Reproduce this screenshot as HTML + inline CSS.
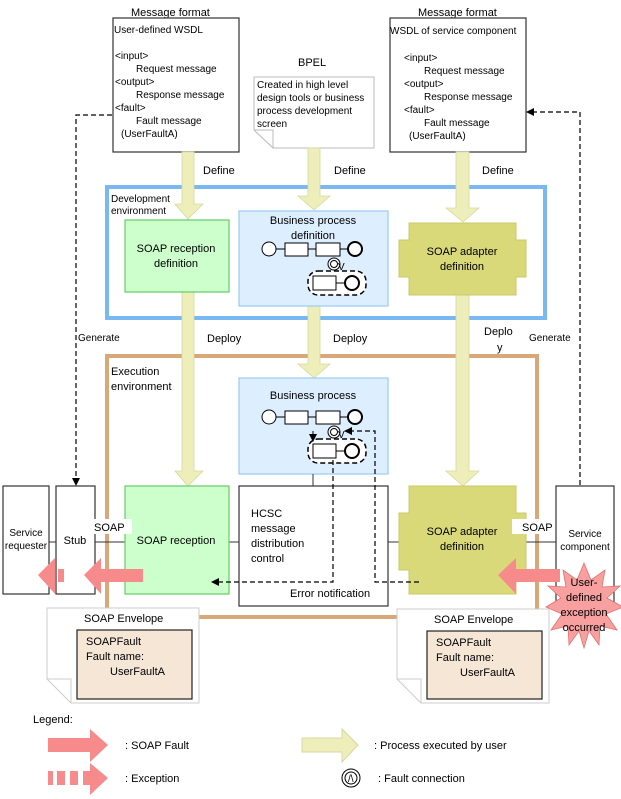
<!DOCTYPE html>
<html><head><meta charset="utf-8"><style>
html,body{margin:0;padding:0;background:#fff;}
svg{display:block;}
text{font-family:"Liberation Sans",sans-serif;font-size:11px;fill:#000;}
.s{font-size:10px;}
</style></head><body>
<svg width="621" height="799" viewBox="0 0 621 799" xmlns="http://www.w3.org/2000/svg">
<defs>
<marker id="ah" markerWidth="8" markerHeight="8" refX="7" refY="4" orient="auto" markerUnits="userSpaceOnUse"><path d="M0,0 L8,4 L0,8 Z" fill="#000"/></marker>
</defs>

<!-- Environments -->
<rect x="107" y="187" width="438" height="131" fill="none" stroke="#7ab8f2" stroke-width="4"/>
<rect x="107" y="356" width="430" height="261" fill="none" stroke="#d8a878" stroke-width="4"/>
<text x="111" y="202" class="s">Development</text>
<text x="111" y="214" class="s">environment</text>
<text x="111" y="375">Execution</text>
<text x="111" y="390">environment</text>

<!-- Top boxes -->
<text x="131" y="16">Message format</text>
<rect x="113" y="18" width="126" height="134" fill="#fff" stroke="#333" stroke-width="1.2"/>
<text x="114" y="33" class="s">User-defined WSDL</text>
<text x="115" y="59" class="s">&lt;input&gt;</text>
<text x="136" y="72" class="s">Request message</text>
<text x="115" y="85" class="s">&lt;output&gt;</text>
<text x="136" y="98" class="s">Response message</text>
<text x="115" y="111" class="s">&lt;fault&gt;</text>
<text x="136" y="124" class="s">Fault message</text>
<text x="121" y="137" class="s">(UserFaultA)</text>

<text x="418" y="16">Message format</text>
<rect x="390" y="18" width="136" height="134" fill="#fff" stroke="#333" stroke-width="1.2"/>
<text x="390" y="34" class="s">WSDL of service component</text>
<text x="404" y="61" class="s">&lt;input&gt;</text>
<text x="424" y="74" class="s">Request message</text>
<text x="404" y="87" class="s">&lt;output&gt;</text>
<text x="424" y="100" class="s">Response message</text>
<text x="404" y="113" class="s">&lt;fault&gt;</text>
<text x="424" y="126" class="s">Fault message</text>
<text x="409" y="139" class="s">(UserFaultA)</text>

<text x="298" y="66">BPEL</text>
<path d="M254,77 L374,77 L374,148 L273,148 L254,130 Z" fill="#fff" stroke="#bbb"/>
<path d="M254,130 L273,130 L273,148" fill="none" stroke="#bbb"/>
<text x="257" y="88" class="s">Created in high level</text>
<text x="257" y="101" class="s">design tools or business</text>
<text x="257" y="114" class="s">process development</text>
<text x="257" y="127" class="s">screen</text>

<!-- Yellow arrows -->
<g fill="#eeeebb" stroke="#d8d8a0" stroke-width="0.8">
<path d="M182,152 L194,152 L194,204 L203,204 L188,219 L175,204 L182,204 Z"/>
<path d="M308,148 L320,148 L320,196 L330,196 L314,210 L298,196 L308,196 Z"/>
<path d="M456,152 L469,152 L469,208 L479,208 L463,222 L446,208 L456,208 Z"/>
<path d="M182,292 L194,292 L194,471 L203,471 L188,486 L175,471 L182,471 Z"/>
<path d="M308,306 L320,306 L320,364 L330,364 L314,378 L298,364 L308,364 Z"/>
<path d="M456,295 L469,295 L469,471 L479,471 L463,486 L446,471 L456,471 Z"/>
</g>
<text x="203" y="174">Define</text>
<text x="334" y="174">Define</text>
<text x="482" y="174">Define</text>
<text x="207" y="342">Deploy</text>
<text x="333" y="342">Deploy</text>
<text x="484" y="335">Deplo</text>
<text x="497" y="351">y</text>
<text x="78" y="341" class="s">Generate</text>
<text x="529" y="341" class="s">Generate</text>

<!-- Dev boxes -->
<rect x="125" y="220" width="104" height="72" fill="#ccffcc" stroke="#66cc66" stroke-width="1.2"/>
<text x="176" y="252" text-anchor="middle">SOAP reception</text>
<text x="176" y="267" text-anchor="middle">definition</text>

<rect x="239" y="211" width="149" height="95" fill="#ddeeff" stroke="#99ccee" stroke-width="1.2"/>
<text x="313" y="224" text-anchor="middle">Business process</text>
<text x="313" y="239" text-anchor="middle">definition</text>

<path d="M409,223 L516,223 L516,240 L526,240 L526,277 L516,277 L516,295 L409,295 L409,277 L399,277 L399,240 L409,240 Z" fill="#d9d97a" stroke="#c9c96a"/>
<text x="462" y="255" text-anchor="middle">SOAP adapter</text>
<text x="462" y="270" text-anchor="middle">definition</text>

<!-- process mini diagrams -->
<g id="pd" stroke="#000" fill="#fff">
<line x1="276" y1="249" x2="348" y2="249" stroke-width="1"/>
<circle cx="269" cy="249" r="7" stroke-width="1"/>
<rect x="285" y="243" width="23" height="13"/>
<rect x="316" y="243" width="24" height="13"/>
<circle cx="355" cy="249" r="7" stroke-width="2"/>
<rect x="308" y="271" width="58" height="24" rx="10" stroke-dasharray="5,3" stroke-width="1.5"/>
<line x1="336" y1="283" x2="345" y2="283"/>
<rect x="313" y="276" width="23" height="14"/>
<circle cx="352" cy="283" r="7" stroke-width="2"/>
<circle cx="334" cy="264" r="6"/>
<circle cx="334" cy="264" r="3.5"/>
<text x="338" y="270" class="s" stroke="none" fill="#000">V</text>
</g>

<!-- Exec BP -->
<rect x="239" y="378" width="149" height="96" fill="#ddeeff" stroke="#99ccee" stroke-width="1.2"/>
<text x="313" y="399" text-anchor="middle">Business process</text>
<use href="#pd" transform="translate(0,168)"/>

<!-- connectors -->
<g stroke="#333" stroke-width="1">
<line x1="313" y1="474" x2="313" y2="486"/>
<line x1="49" y1="542" x2="556" y2="542"/>
</g>

<rect x="3" y="486" width="46" height="108" fill="#fff" stroke="#333" stroke-width="1.2"/>
<text x="26" y="536" class="s" text-anchor="middle">Service</text>
<text x="26" y="549" class="s" text-anchor="middle">requester</text>
<rect x="56" y="486" width="39" height="108" fill="#fff" stroke="#333" stroke-width="1.2"/>
<text x="75" y="544" text-anchor="middle">Stub</text>

<rect x="125" y="486" width="104" height="108" fill="#ccffcc" stroke="#66cc66" stroke-width="1.2"/>
<text x="176" y="544" text-anchor="middle">SOAP reception</text>
<rect x="92" y="519" width="40" height="15" fill="#fff"/>
<text x="94" y="531">SOAP</text>

<rect x="239" y="486" width="149" height="120" fill="#fff" stroke="#333" stroke-width="1.2"/>
<text x="251" y="517">HCSC</text>
<text x="251" y="532">message</text>
<text x="251" y="547">distribution</text>
<text x="251" y="562">control</text>
<text x="290" y="597">Error notification</text>

<path d="M409,486 L516,486 L516,513 L526,513 L526,570 L516,570 L516,594 L409,594 L409,570 L399,570 L399,513 L409,513 Z" fill="#d9d97a" stroke="#c9c96a"/>
<text x="462" y="535" text-anchor="middle">SOAP adapter</text>
<text x="462" y="550" text-anchor="middle">definition</text>

<rect x="556" y="486" width="58" height="116" fill="#fff" stroke="#333" stroke-width="1.2"/>
<text x="585" y="537" class="s" text-anchor="middle">Service</text>
<text x="585" y="550" class="s" text-anchor="middle">component</text>
<rect x="512" y="519" width="40" height="15" fill="#fff"/>
<text x="522" y="531">SOAP</text>

<!-- Dashed lines -->
<g fill="none" stroke="#000" stroke-width="1.2" stroke-dasharray="5,3">
<path d="M112,115 L76,115 L76,485" marker-end="url(#ah)"/>
<path d="M580,485 L580,112 L527,112" marker-end="url(#ah)"/>
<path d="M333,460 L333,582 L212,582" marker-end="url(#ah)"/>
<path d="M419,582 L375,582 L375,431 L345,431" marker-end="url(#ah)"/>
</g>
<path d="M313,431 L313,441" stroke="#000" marker-end="url(#ah)"/>

<!-- Pink arrows -->
<g fill="#f78b8b">
<path d="M143,569 L143,582 L101,582 L101,594 L84,575 L101,558 L101,569 Z"/>
<rect x="58" y="569" width="6" height="13"/>
<path d="M55,569 L55,582 L55,594 L38,575 L55,558 Z"/>
<path d="M560,569 L560,582 L516,582 L516,594 L498,575 L516,558 L516,569 Z"/>
</g>

<!-- Star -->
<polygon fill="#f8a0a0" stroke="#e07070" stroke-width="0.8" points="584,563 591,580 605,570 602,587 620,586 607,598 623,607 606,614 617,630 600,626 599,645 589,631 584,648 579,631 569,645 568,626 551,630 562,614 546,607 561,598 548,586 566,587 563,570 577,580"/>
<text x="584" y="586" text-anchor="middle">User-</text>
<text x="584" y="601" text-anchor="middle">defined</text>
<text x="584" y="616" text-anchor="middle">exception</text>
<text x="584" y="631" text-anchor="middle">occurred</text>

<!-- Envelopes -->
<path d="M47,608 L199,608 L199,703 L71,703 L47,679 Z" fill="#fff" stroke="#ccc"/>
<path d="M47,679 L71,679 L71,703" fill="none" stroke="#ccc"/>
<text x="84" y="622">SOAP Envelope</text>
<rect x="77" y="630" width="115" height="69" fill="#f6e6d6" stroke="#222" stroke-width="1.2"/>
<text x="86" y="645">SOAPFault</text>
<text x="86" y="660">Fault name:</text>
<text x="110" y="675">UserFaultA</text>

<path d="M397,609 L549,609 L549,703 L421,703 L397,679 Z" fill="#fff" stroke="#ccc"/>
<path d="M397,679 L421,679 L421,703" fill="none" stroke="#ccc"/>
<text x="434" y="623">SOAP Envelope</text>
<rect x="427" y="631" width="115" height="68" fill="#f6e6d6" stroke="#222" stroke-width="1.2"/>
<text x="436" y="646">SOAPFault</text>
<text x="436" y="661">Fault name:</text>
<text x="460" y="676">UserFaultA</text>

<!-- Legend -->
<text x="33" y="723">Legend:</text>
<path d="M48,738 L90,738 L90,729 L108,745 L90,762 L90,752 L48,752 Z" fill="#f78b8b"/>
<text x="125" y="749">: SOAP Fault</text>
<g fill="#f78b8b">
<rect x="48" y="771" width="5" height="14"/><rect x="57" y="771" width="8" height="14"/><rect x="70" y="771" width="8" height="14"/>
<path d="M83,771 L90,771 L90,763 L108,778 L90,795 L90,785 L83,785 Z"/>
</g>
<text x="125" y="782">: Exception</text>
<path d="M302,738 L342,738 L342,729 L358,745 L342,762 L342,752 L302,752 Z" fill="#eeeebb" stroke="#d8d8a0"/>
<text x="374" y="749">: Process executed by user</text>
<circle cx="351" cy="778" r="9" fill="#fff" stroke="#000"/>
<circle cx="351" cy="778" r="6" fill="#fff" stroke="#000"/>
<text x="348" y="782" class="s">/\</text>
<text x="378" y="782">: Fault connection</text>
</svg>
</body></html>
